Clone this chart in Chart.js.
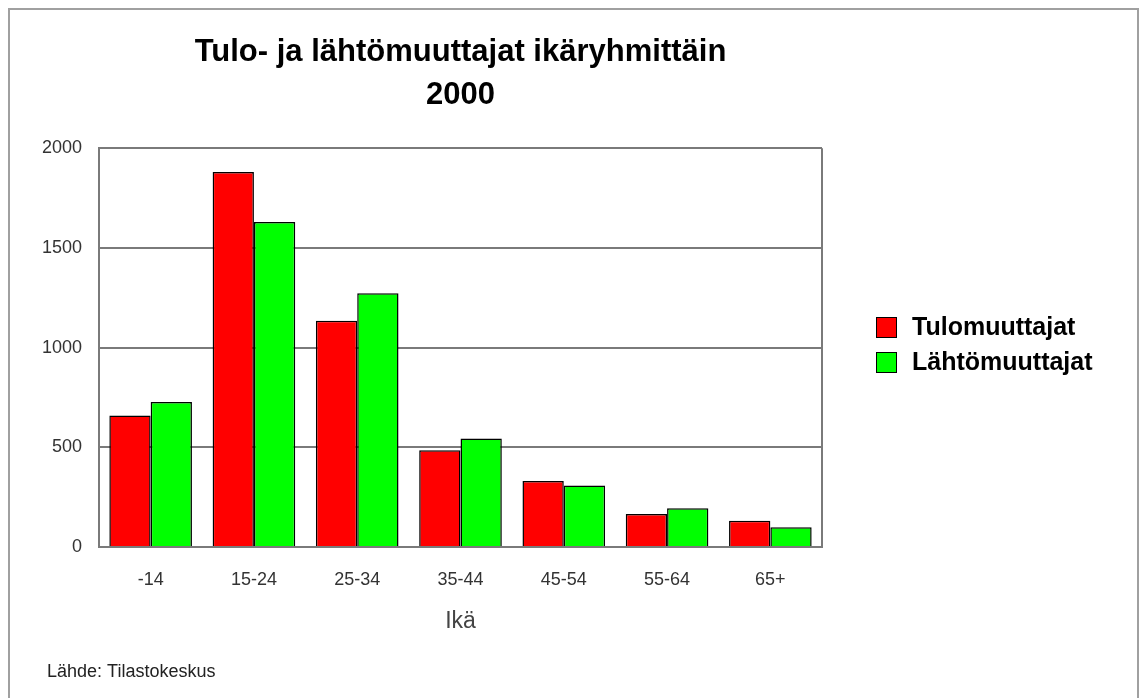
<!DOCTYPE html>
<html><head><meta charset="utf-8">
<script src="https://cdn.jsdelivr.net/npm/chart.js@4/dist/chart.umd.min.js"></script>
<style>html,body{margin:0;padding:0;background:#fff}#wrap{width:1147px;height:698px}</style>
</head><body><div id="wrap"><canvas id="c" width="1147" height="698"></canvas></div>
<script>
const categories = ['-14', '15-24', '25-34', '35-44', '45-54', '55-64', '65+'];
const seriesNames = ['Tulomuuttajat', 'Lähtömuuttajat'];
const tuloValues = [660, 1880, 1135, 485, 331, 165, 132];
const lahtoValues = [727, 1630, 1272, 544, 308, 194, 99];
const yTicks = [0, 500, 1000, 1500, 2000];
const titleLines = ['Tulo- ja lähtömuuttajat ikäryhmittäin', '2000'];
const xTitle = 'Ikä';
const sourceText = 'Lähde: Tilastokeskus';

const FONT = '"Liberation Sans", Arial, Helvetica, sans-serif';
const GRID = '#7a7a7a';

const framePlugin = {
  id: 'frame',
  beforeDraw(chart) {
    const ctx = chart.ctx;
    ctx.save();
    ctx.fillStyle = '#fff';
    ctx.fillRect(0, 0, chart.width, chart.height);
    ctx.strokeStyle = '#a0a0a0';
    ctx.lineWidth = 2;
    ctx.beginPath();
    ctx.moveTo(9, chart.height);
    ctx.lineTo(9, 9);
    ctx.lineTo(1138, 9);
    ctx.lineTo(1138, chart.height);
    ctx.stroke();
    ctx.restore();
  },
  afterDraw(chart) {
    const ctx = chart.ctx;
    const a = chart.chartArea;
    ctx.save();
    ctx.strokeStyle = GRID;
    ctx.lineWidth = 2;
    ctx.beginPath();
    ctx.moveTo(a.right, a.top);
    ctx.lineTo(a.right, a.bottom);
    ctx.stroke();
    chart.data.datasets.forEach((ds, i) => {
      const y = 317 + i * 35;
      ctx.fillStyle = ds.backgroundColor;
      ctx.fillRect(876, y, 21, 21);
      ctx.strokeStyle = '#000';
      ctx.lineWidth = 1;
      ctx.strokeRect(876.5, y + 0.5, 20, 20);
      ctx.fillStyle = '#000';
      ctx.font = 'bold 25px ' + FONT;
      ctx.textBaseline = 'middle';
      ctx.textAlign = 'left';
      ctx.fillText(ds.label, 912, y + 11);
    });
    ctx.fillStyle = '#222';
    ctx.font = '18px ' + FONT;
    ctx.textBaseline = 'middle';
    ctx.fillText(sourceText, 47, 672);
    ctx.restore();
  }
};

new Chart(document.getElementById('c'), {
  type: 'bar',
  data: {
    labels: categories,
    datasets: [
      { label: seriesNames[0], data: tuloValues, backgroundColor: '#ff0000', borderColor: '#000', borderWidth: 1.5 },
      { label: seriesNames[1], data: lahtoValues, backgroundColor: '#00ff00', borderColor: '#000', borderWidth: 1.5 }
    ]
  },
  options: {
    responsive: false,
    animation: false,
    devicePixelRatio: 1,
    layout: { padding: { top: 0, left: 0, right: 325, bottom: 41 } },
    datasets: { bar: { categoryPercentage: 0.8, barPercentage: 1.0 } },
    plugins: {
      legend: { display: false },
      tooltip: { enabled: false },
      title: {
        display: true,
        fullSize: false,
        text: titleLines,
        color: '#000',
        font: { family: FONT, size: 31, weight: 'bold', lineHeight: 1.39 },
        padding: { top: 31, bottom: 31 }
      }
    },
    scales: {
      x: {
        grid: { display: false, drawTicks: false },
        border: { display: true, color: GRID, width: 2 },
        ticks: { color: '#333', font: { family: FONT, size: 18 }, padding: 22, maxRotation: 0 },
        title: { display: true, text: xTitle, color: '#444', font: { family: FONT, size: 23 }, padding: { top: 0, bottom: 22 } },
        afterFit(scale) { scale.height = 110; }
      },
      y: {
        min: yTicks[0],
        max: yTicks[yTicks.length - 1],
        afterBuildTicks(scale) { scale.ticks = yTicks.map(v => ({ value: v })); },
        grid: { color: GRID, lineWidth: 2, drawTicks: false },
        border: { display: true, color: GRID, width: 2 },
        ticks: { color: '#333', font: { family: FONT, size: 18 }, padding: 17, callback: v => String(v) },
        afterFit(scale) { scale.width = 99; }
      }
    }
  },
  plugins: [framePlugin]
});
</script>
</body></html>
